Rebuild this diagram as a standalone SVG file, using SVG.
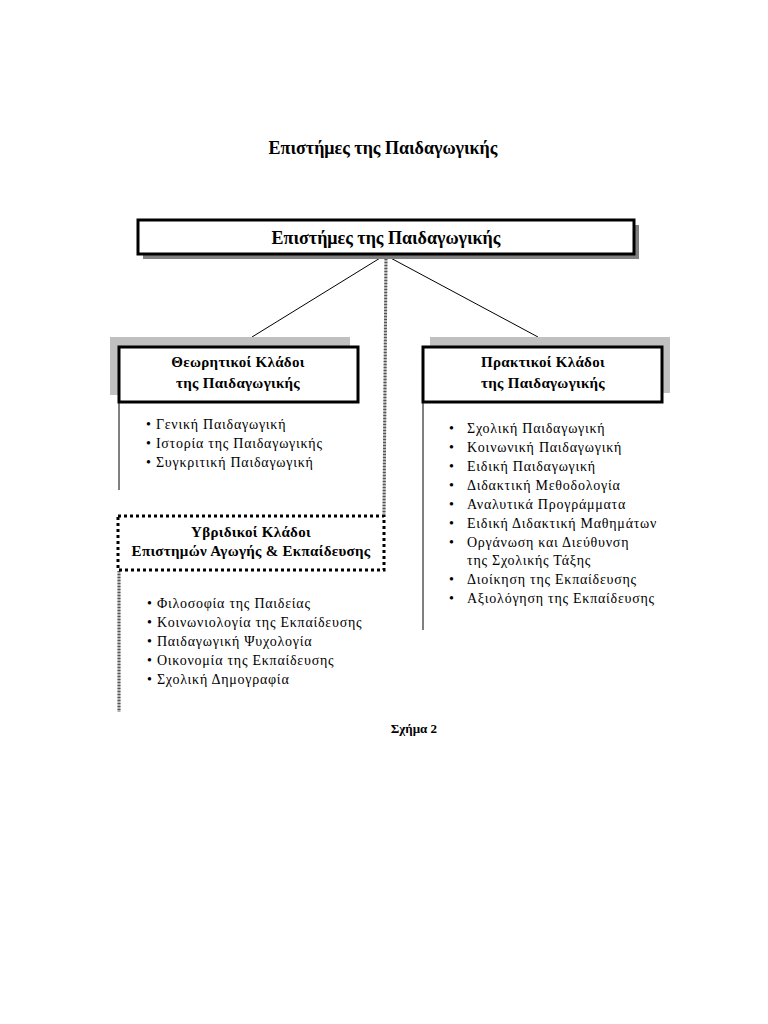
<svg xmlns="http://www.w3.org/2000/svg" width="768" height="1024" viewBox="0 0 768 1024">
<style>
text{font-family:"Liberation Serif","DejaVu Serif",serif;fill:#000}
.b{font-weight:bold}
.h{font-size:15px;letter-spacing:0.3px}
.l{font-size:14px;letter-spacing:0.75px}
.box{fill:#fff;stroke:#000;stroke-width:3}
.sh{fill:#c0c0c0}
.ln{stroke:#000;stroke-width:1;fill:none}
.hat{stroke:#b0b0b0;stroke-width:3;fill:none}
.hat2{stroke:#555;stroke-width:3;stroke-dasharray:1 2;fill:none}
.dot{fill:#fff;stroke:#000;stroke-width:3;stroke-dasharray:3 3}
</style>
<rect width="768" height="1024" fill="#fff"/>
<text class="b" font-size="18" x="383" y="154" text-anchor="middle">Επιστήμες της Παιδαγωγικής</text>

<g id="connectors">
<line class="ln" x1="385" y1="255" x2="252" y2="337"/>
<line class="ln" x1="385" y1="255" x2="538" y2="337"/>
<line class="hat" x1="386" y1="256" x2="384" y2="514"/>
<line class="hat2" x1="386" y1="256" x2="384" y2="514"/>
<line class="ln" x1="119" y1="402" x2="119" y2="490"/>
<line class="ln" x1="423" y1="402" x2="423" y2="630"/>
<line class="hat" x1="119" y1="571" x2="119" y2="712"/>
<line class="hat2" x1="119" y1="571" x2="119" y2="712"/>
</g>

<g id="root">
<rect x="143" y="225" width="496" height="34" fill="#808080"/>
<rect class="box" x="138" y="220" width="496" height="34"/>
<text class="b" font-size="18" x="386" y="244" text-anchor="middle">Επιστήμες της Παιδαγωγικής</text>
</g>

<g id="theoretical">
<rect class="sh" x="110" y="337" width="240" height="58"/>
<rect class="box" x="119" y="347" width="239" height="55"/>
<text class="b h" x="238" y="367" text-anchor="middle">Θεωρητικοί Κλάδοι</text>
<text class="b h" x="238" y="388" text-anchor="middle">της Παιδαγωγικής</text>
<g class="l">
<text x="146" y="429">• Γενική Παιδαγωγική</text>
<text x="146" y="448">• Ιστορία της Παιδαγωγικής</text>
<text x="146" y="467">• Συγκριτική Παιδαγωγική</text>
</g>
</g>

<g id="practical">
<rect class="sh" x="430" y="337" width="240" height="56"/>
<rect class="box" x="423" y="347" width="239" height="55"/>
<text class="b h" x="543" y="367" text-anchor="middle">Πρακτικοί Κλάδοι</text>
<text class="b h" x="543" y="388" text-anchor="middle">της Παιδαγωγικής</text>
<g class="l">
<text x="449" y="433">•</text><text x="467" y="433">Σχολική Παιδαγωγική</text>
<text x="449" y="452">•</text><text x="467" y="452">Κοινωνική Παιδαγωγική</text>
<text x="449" y="471">•</text><text x="467" y="471">Ειδική Παιδαγωγική</text>
<text x="449" y="490">•</text><text x="467" y="490">Διδακτική Μεθοδολογία</text>
<text x="449" y="509">•</text><text x="467" y="509">Αναλυτικά Προγράμματα</text>
<text x="449" y="528">•</text><text x="467" y="528">Ειδική Διδακτική Μαθημάτων</text>
<text x="449" y="547">•</text><text x="467" y="547">Οργάνωση και Διεύθυνση</text>
<text x="467" y="565">της Σχολικής Τάξης</text>
<text x="449" y="584">•</text><text x="467" y="584">Διοίκηση της Εκπαίδευσης</text>
<text x="449" y="603">•</text><text x="467" y="603">Αξιολόγηση της Εκπαίδευσης</text>
</g>
</g>

<g id="hybrid">
<rect class="dot" x="118" y="516" width="266" height="54"/>
<text class="b h" x="251" y="537" text-anchor="middle">Υβριδικοί Κλάδοι</text>
<text class="b h" x="251" y="556" text-anchor="middle">Επιστημών Αγωγής &amp; Εκπαίδευσης</text>
<g class="l">
<text x="147" y="608">• Φιλοσοφία της Παιδείας</text>
<text x="147" y="627">• Κοινωνιολογία της Εκπαίδευσης</text>
<text x="147" y="646">• Παιδαγωγική Ψυχολογία</text>
<text x="147" y="665">• Οικονομία της Εκπαίδευσης</text>
<text x="147" y="684">• Σχολική Δημογραφία</text>
</g>
</g>

<text class="b" font-size="13" x="414" y="733" text-anchor="middle">Σχήμα 2</text>
</svg>
